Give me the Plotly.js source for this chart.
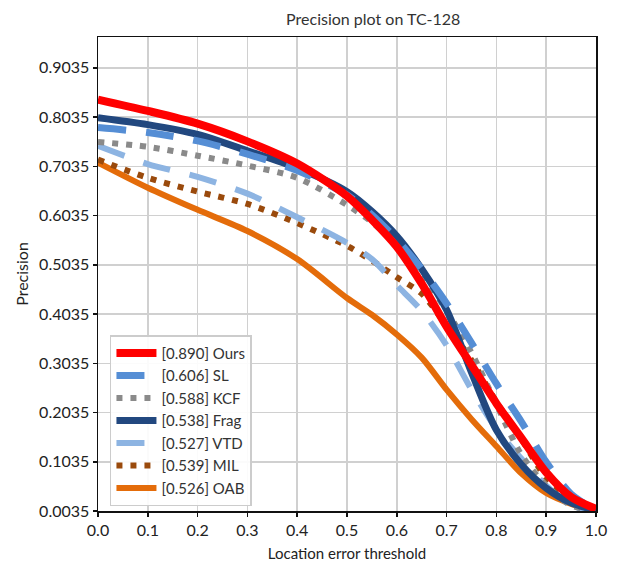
<!DOCTYPE html>
<html>
<head>
<meta charset="utf-8">
<script src="https://cdn.plot.ly/plotly-3.0.1.min.js"></script>
<style>html,body{margin:0;padding:0;background:#fff;}#chart{width:620px;height:564px;}</style>
</head>
<body>
<div id="chart"></div>
<script>
// Location error thresholds (x)
const thresholds = [0, 0.1, 0.2, 0.3, 0.4, 0.5, 0.55, 0.6, 0.65, 0.7, 0.75, 0.8, 0.85, 0.9, 0.95, 1.0];

// Precision values per tracker
const oursPrecision = [0.839, 0.816, 0.790, 0.754, 0.709, 0.643, 0.595, 0.540, 0.465, 0.378, 0.300, 0.222, 0.152, 0.082, 0.032, 0.008];
const slPrecision   = [0.782, 0.772, 0.755, 0.728, 0.695, 0.645, 0.605, 0.555, 0.495, 0.425, 0.345, 0.262, 0.185, 0.103, 0.038, 0.005];
const kcfPrecision  = [0.753, 0.743, 0.725, 0.705, 0.680, 0.625, 0.590, 0.545, 0.485, 0.410, 0.325, 0.220, 0.118, 0.055, 0.015, 0.004];
const fragPrecision = [0.802, 0.788, 0.768, 0.735, 0.700, 0.652, 0.612, 0.562, 0.495, 0.412, 0.285, 0.168, 0.098, 0.050, 0.020, 0.005];
const vtdPrecision  = [0.745, 0.708, 0.682, 0.648, 0.600, 0.548, 0.515, 0.462, 0.410, 0.340, 0.250, 0.170, 0.110, 0.055, 0.014, 0.004];
const milPrecision  = [0.717, 0.680, 0.652, 0.627, 0.588, 0.542, 0.512, 0.478, 0.445, 0.380, 0.310, 0.225, 0.150, 0.070, 0.020, 0.004];
const oabPrecision  = [0.711, 0.660, 0.615, 0.572, 0.515, 0.436, 0.402, 0.362, 0.315, 0.250, 0.190, 0.135, 0.080, 0.040, 0.018, 0.004];

// Legend labels
const seriesNames = ["[0.890] Ours", "[0.606] SL", "[0.588] KCF", "[0.538] Frag", "[0.527] VTD", "[0.539] MIL", "[0.526] OAB"];

// Tick labels
const xTickVals = [0, 0.1, 0.2, 0.3, 0.4, 0.5, 0.6, 0.7, 0.8, 0.9, 1.0];
const xTickText = ["0.0", "0.1", "0.2", "0.3", "0.4", "0.5", "0.6", "0.7", "0.8", "0.9", "1.0"];
const yTickVals = [0.0035, 0.1035, 0.2035, 0.3035, 0.4035, 0.5035, 0.6035, 0.7035, 0.8035, 0.9035];
const yTickText = ["0.0035", "0.1035", "0.2035", "0.3035", "0.4035", "0.5035", "0.6035", "0.7035", "0.8035", "0.9035"];

function mk(y, name, color, width, dash, rank) {
  return {
    x: thresholds, y: y, name: name, type: 'scatter', mode: 'lines',
    line: {color: color, width: width, dash: dash, shape: 'spline', smoothing: 0.8},
    legendrank: rank, hoverinfo: 'skip'
  };
}

const data = [
  mk(oabPrecision,  seriesNames[6], '#e46c0a', 6, 'solid', 7),
  mk(milPrecision,  seriesNames[5], '#9a4a0c', 6, '6px,8px', 6),
  mk(vtdPrecision,  seriesNames[4], '#8db4e2', 6, '28px,20px', 5),
  mk(kcfPrecision,  seriesNames[2], '#8a8a8a', 6, '6px,8px', 3),
  mk(fragPrecision, seriesNames[3], '#22487f', 7, 'solid', 4),
  mk(slPrecision,   seriesNames[1], '#558ed5', 7, '28px,20px', 2),
  mk(oursPrecision, seriesNames[0], '#ff0000', 8, 'solid', 1)
];

const fontFam = 'Lato, "Open Sans", sans-serif';

const layout = {
  width: 620, height: 564,
  margin: {l: 98, r: 24, t: 37, b: 53},
  paper_bgcolor: '#ffffff', plot_bgcolor: '#ffffff',
  font: {family: fontFam, color: '#222222', size: 15},
  title: {text: 'Precision plot on TC-128', x: 0.602, xanchor: 'center', y: 0.966, yanchor: 'middle',
          font: {family: fontFam, size: 16, color: '#333333'}},
  xaxis: {
    range: [0, 1], tickvals: xTickVals, ticktext: xTickText,
    showgrid: true, gridcolor: '#d0d0d0', gridwidth: 1.5,
    showline: true, linecolor: '#111111', linewidth: 1.5, mirror: true,
    ticks: 'outside', ticklen: 4, tickcolor: '#111111', tickwidth: 1.5,
    tickfont: {family: fontFam, size: 16, color: '#222222'},
    zeroline: false,
    title: {text: 'Location error threshold', standoff: 11, font: {family: fontFam, size: 15, color: '#222222'}}
  },
  yaxis: {
    range: [0.0035, 0.966], tickvals: yTickVals, ticktext: yTickText,
    showgrid: true, gridcolor: '#d0d0d0', gridwidth: 1.5,
    showline: true, linecolor: '#111111', linewidth: 1.5, mirror: true,
    ticks: 'outside', ticklen: 4, tickcolor: '#111111', tickwidth: 1.5,
    tickfont: {family: fontFam, size: 16, color: '#222222'},
    zeroline: false,
    title: {text: 'Precision', standoff: 6, font: {family: fontFam, size: 16, color: '#222222'}}
  },
  showlegend: true,
  legend: {
    x: 0.024, y: 0.371, xanchor: 'left', yanchor: 'top',
    bgcolor: 'rgba(255,255,255,0.9)', bordercolor: '#cccccc', borderwidth: 1.5,
    font: {family: fontFam, size: 15, color: '#333333'},
    itemwidth: 40, traceorder: 'normal', entrywidth: 125, entrywidthmode: 'pixels'
  }
};

Plotly.newPlot('chart', data, layout, {staticPlot: true, displayModeBar: false});
</script>
</body>
</html>
